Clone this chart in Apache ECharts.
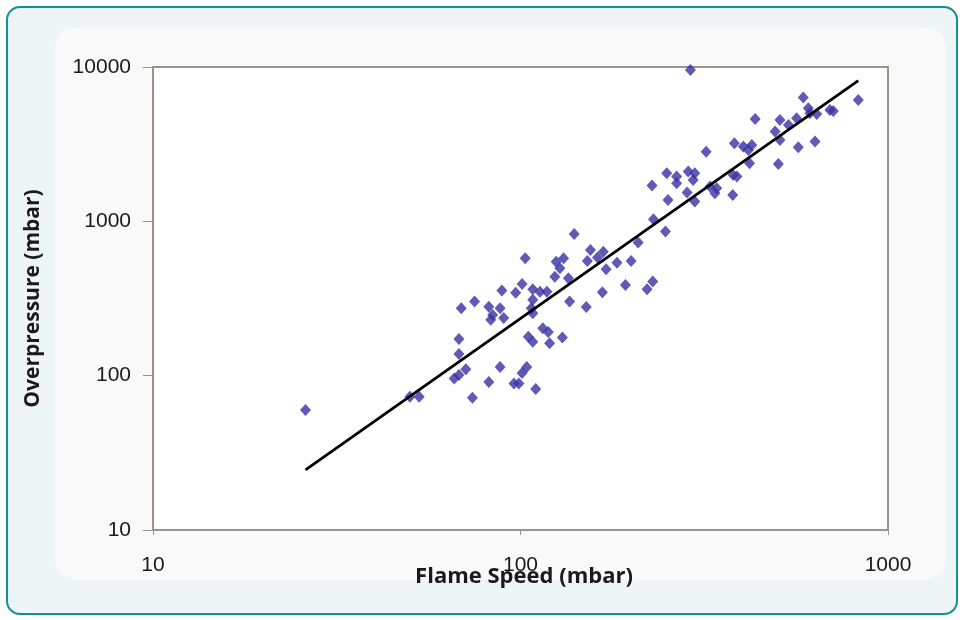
<!DOCTYPE html>
<html>
<head>
<meta charset="utf-8">
<script src="https://cdn.jsdelivr.net/npm/echarts@6/dist/echarts.min.js"></script>
<style>
  html, body { margin: 0; padding: 0; background: #ffffff; }
  #frame { position: absolute; left: 6px; top: 6px; width: 948px; height: 605px;
           border: 2.5px solid #16908e; border-radius: 14px; background: #eef5f6; }
  #panel { position: absolute; left: 55px; top: 27px; width: 891px; height: 553px;
           background: #f9f9f9; border-radius: 20px; }
  #chart { position: absolute; left: 0; top: 0; width: 964px; height: 620px; }
</style>
</head>
<body>
<div id="frame"></div>
<div id="panel"></div>
<div id="chart"></div>
<script>
// Flame speed (x, mbar) and overpressure (y, mbar) for each test point
const flameSpeed = [26, 50, 53, 68, 68, 71, 66, 68, 74, 82, 88, 96, 99, 101, 104, 110, 105, 108,
  115, 119, 120, 130, 69, 75, 82, 83, 84, 88, 90, 89, 97, 101, 103, 108, 113, 118, 108, 107, 108,
  136, 151, 124, 128, 125, 131, 135, 140, 155, 152, 162, 168, 171, 167, 183, 200, 193, 209, 221,
  229, 230, 248, 252, 298, 290, 228, 250, 266, 266, 284, 286, 298, 295, 320, 328, 342, 338, 378,
  379, 388, 382, 404, 426, 417, 420, 435, 503, 493, 508, 508, 536, 564, 570, 588, 607, 613, 640,
  633, 695, 710, 830];
const overpressure = [60, 73, 73, 173, 138, 110, 96, 101, 72, 91, 114, 89, 89, 104, 114, 82, 179, 166,
  203, 192, 162, 177, 273, 302, 280, 230, 247, 273, 236, 356, 345, 393, 577, 363, 350, 350, 310, 273, 254,
  302, 279, 438, 497, 548, 577, 428, 829, 653, 554, 583, 636, 489, 347, 540, 554, 387, 728, 363,
  407, 1031, 858, 1376, 1342, 9576, 1704, 2050, 1949, 1766, 1535, 2100, 2050, 1855, 2829, 1679, 1639, 1521, 1483,
  1999, 1949, 3208, 3049, 3127, 2902, 2379, 4609, 2355, 3813, 3370, 4541, 4215, 4658, 3022, 6334, 5408, 5018, 4967,
  3285, 5272, 5192, 6121];
// Fitted power-law trend line end points
const fitX = [26, 830];
const fitY = [24.5, 8170];
// Axis ranges / titles
const xRange = [10, 1000];
const yRange = [10, 10000];
const xTitle = 'Flame Speed (mbar)';
const yTitle = 'Overpressure (mbar)';

const points = flameSpeed.map((x, i) => [x, overpressure[i]]);
const fitLine = fitX.map((x, i) => [x, fitY[i]]);

const chart = echarts.init(document.getElementById('chart'), null, { renderer: 'canvas' });
const axisColor = '#9a928c';
const labelFont = { fontFamily: 'Liberation Sans', fontSize: 21, color: '#1a1a1a' };
const titleFont = { fontFamily: 'Open Sans', fontWeight: 'bold', fontSize: 21, color: '#1a1a1a' };

chart.setOption({
  backgroundColor: 'transparent',
  animation: false,
  grid: {
    left: 153, top: 67, width: 735, height: 463,
    show: true, backgroundColor: '#ffffff', borderColor: axisColor, borderWidth: 2
  },
  graphic: [{
    type: 'text', x: 524, y: 577, z: 10,
    style: {
      text: xTitle, fill: titleFont.color, font: 'bold 22px "Open Sans"',
      textAlign: 'center', textVerticalAlign: 'middle'
    }
  }],
  xAxis: {
    type: 'log', logBase: 10, min: xRange[0], max: xRange[1],
    axisLine: { show: true, lineStyle: { color: axisColor, width: 2 } },
    axisTick: { show: true, length: 5, lineStyle: { color: axisColor, width: 1 } },
    axisLabel: Object.assign({ margin: 25, formatter: v => String(Math.round(v)) }, labelFont),
    splitLine: { show: false }, minorTick: { show: false }
  },
  yAxis: {
    type: 'log', logBase: 10, min: yRange[0], max: yRange[1],
    name: yTitle, nameLocation: 'middle', nameGap: 109, nameRotate: 90,
    nameTextStyle: titleFont,
    axisLine: { show: true, lineStyle: { color: axisColor, width: 2 } },
    axisTick: { show: true, length: 10, lineStyle: { color: axisColor, width: 1 } },
    axisLabel: Object.assign({ margin: 22, formatter: v => String(Math.round(v)) }, labelFont),
    splitLine: { show: false }, minorTick: { show: false }
  },
  series: [
    {
      type: 'scatter', data: points, symbol: 'diamond', symbolSize: [11, 12],
      itemStyle: { color: '#3631a2' }, z: 2
    },
    {
      type: 'line', data: fitLine, symbol: 'none',
      lineStyle: { color: '#000000', width: 2.8 }, z: 3
    }
  ]
});
</script>
</body>
</html>
